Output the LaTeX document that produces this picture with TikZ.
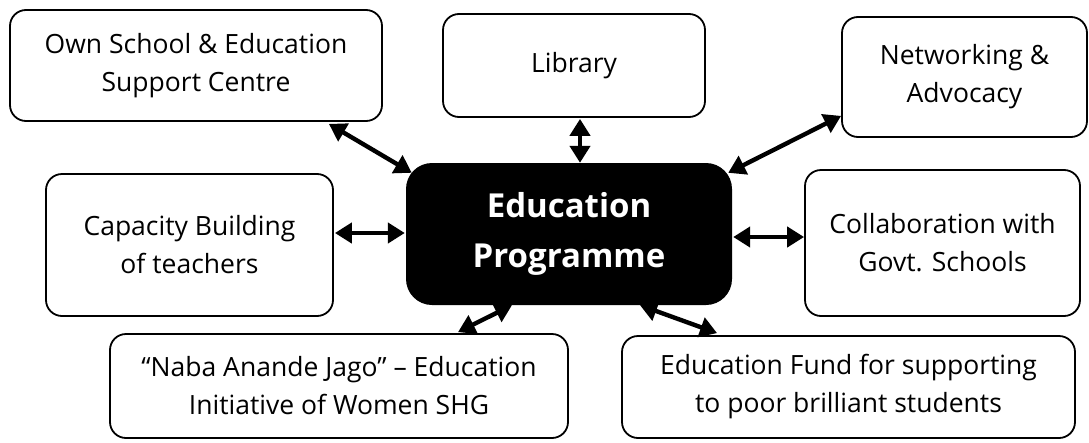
\documentclass[tikz,border=0pt]{standalone}
\usepackage{fontspec}
\setmainfont{Open Sans}
\usetikzlibrary{arrows.meta,calc}
\begin{document}
\begin{tikzpicture}[x=1pt,y=-1pt,
  box/.style={draw=black,line width=1.8pt,rounded corners=16pt,fill=white,
    align=center,inner sep=0pt,font=\fontsize{26.5}{38}\selectfont},
  mainbox/.style={fill=black,rounded corners=26pt,align=center,inner sep=0pt,
    text=white,font=\fontsize{33}{50}\selectfont\bfseries},
  link/.style={line width=4.4pt,{Triangle[length=17pt,width=20pt]}-{Triangle[length=17pt,width=20pt]}}]
\useasboundingbox (0,0) rectangle (1089,442);
\node[box,minimum width=372pt,minimum height=111pt] (own) at (196,65.5) {Own School \& Education\\Support Centre};
\node[box,minimum width=262pt,minimum height=103pt] (lib) at (574,65.5) {Library};
\node[box,minimum width=245pt,minimum height=120pt] (net) at (964.5,77) {Networking \&\\Advocacy};
\node[box,minimum width=287pt,minimum height=142pt] (cap) at (189.5,245) {Capacity Building\\of teachers};
\node[box,minimum width=275pt,minimum height=146pt] (col) at (942.5,243) {Collaboration with\\Govt. Schools};
\node[box,minimum width=458pt,minimum height=104pt] (naba) at (339,386) {“Naba Anande Jago” – Education\\Initiative of Women SHG};
\node[box,minimum width=453pt,minimum height=102pt] (fund) at (848.5,387) {Education Fund for supporting\\to poor brilliant students};
\node[mainbox,minimum width=326pt,minimum height=142pt] (edu) at (569,234) {Education\\Programme};
\draw[link] ($(own.south east)+(-54,2)$) -- ($(edu.north west)+(6,10)$);
\draw[link] ($(lib.south)+(6,1)$) -- ($(edu.north)+(11,0)$);
\draw[link] ($(net.south west)+(0,-22)$) -- ($(edu.north east)+(-4,10)$);
\draw[link] ($(cap.east)+(1,-12)$) -- ($(edu.west)+(-1,-1)$);
\draw[link] ($(edu.east)+(1,3)$) -- ($(col.west)+(0,-6)$);
\draw[link] ($(edu.south)+(-57,0)$) -- ($(naba.north)+(119,-1)$);
\draw[link] ($(edu.south)+(71,0)$) -- ($(fund.north west)+(96,-2)$);
\end{tikzpicture}
\end{document}
